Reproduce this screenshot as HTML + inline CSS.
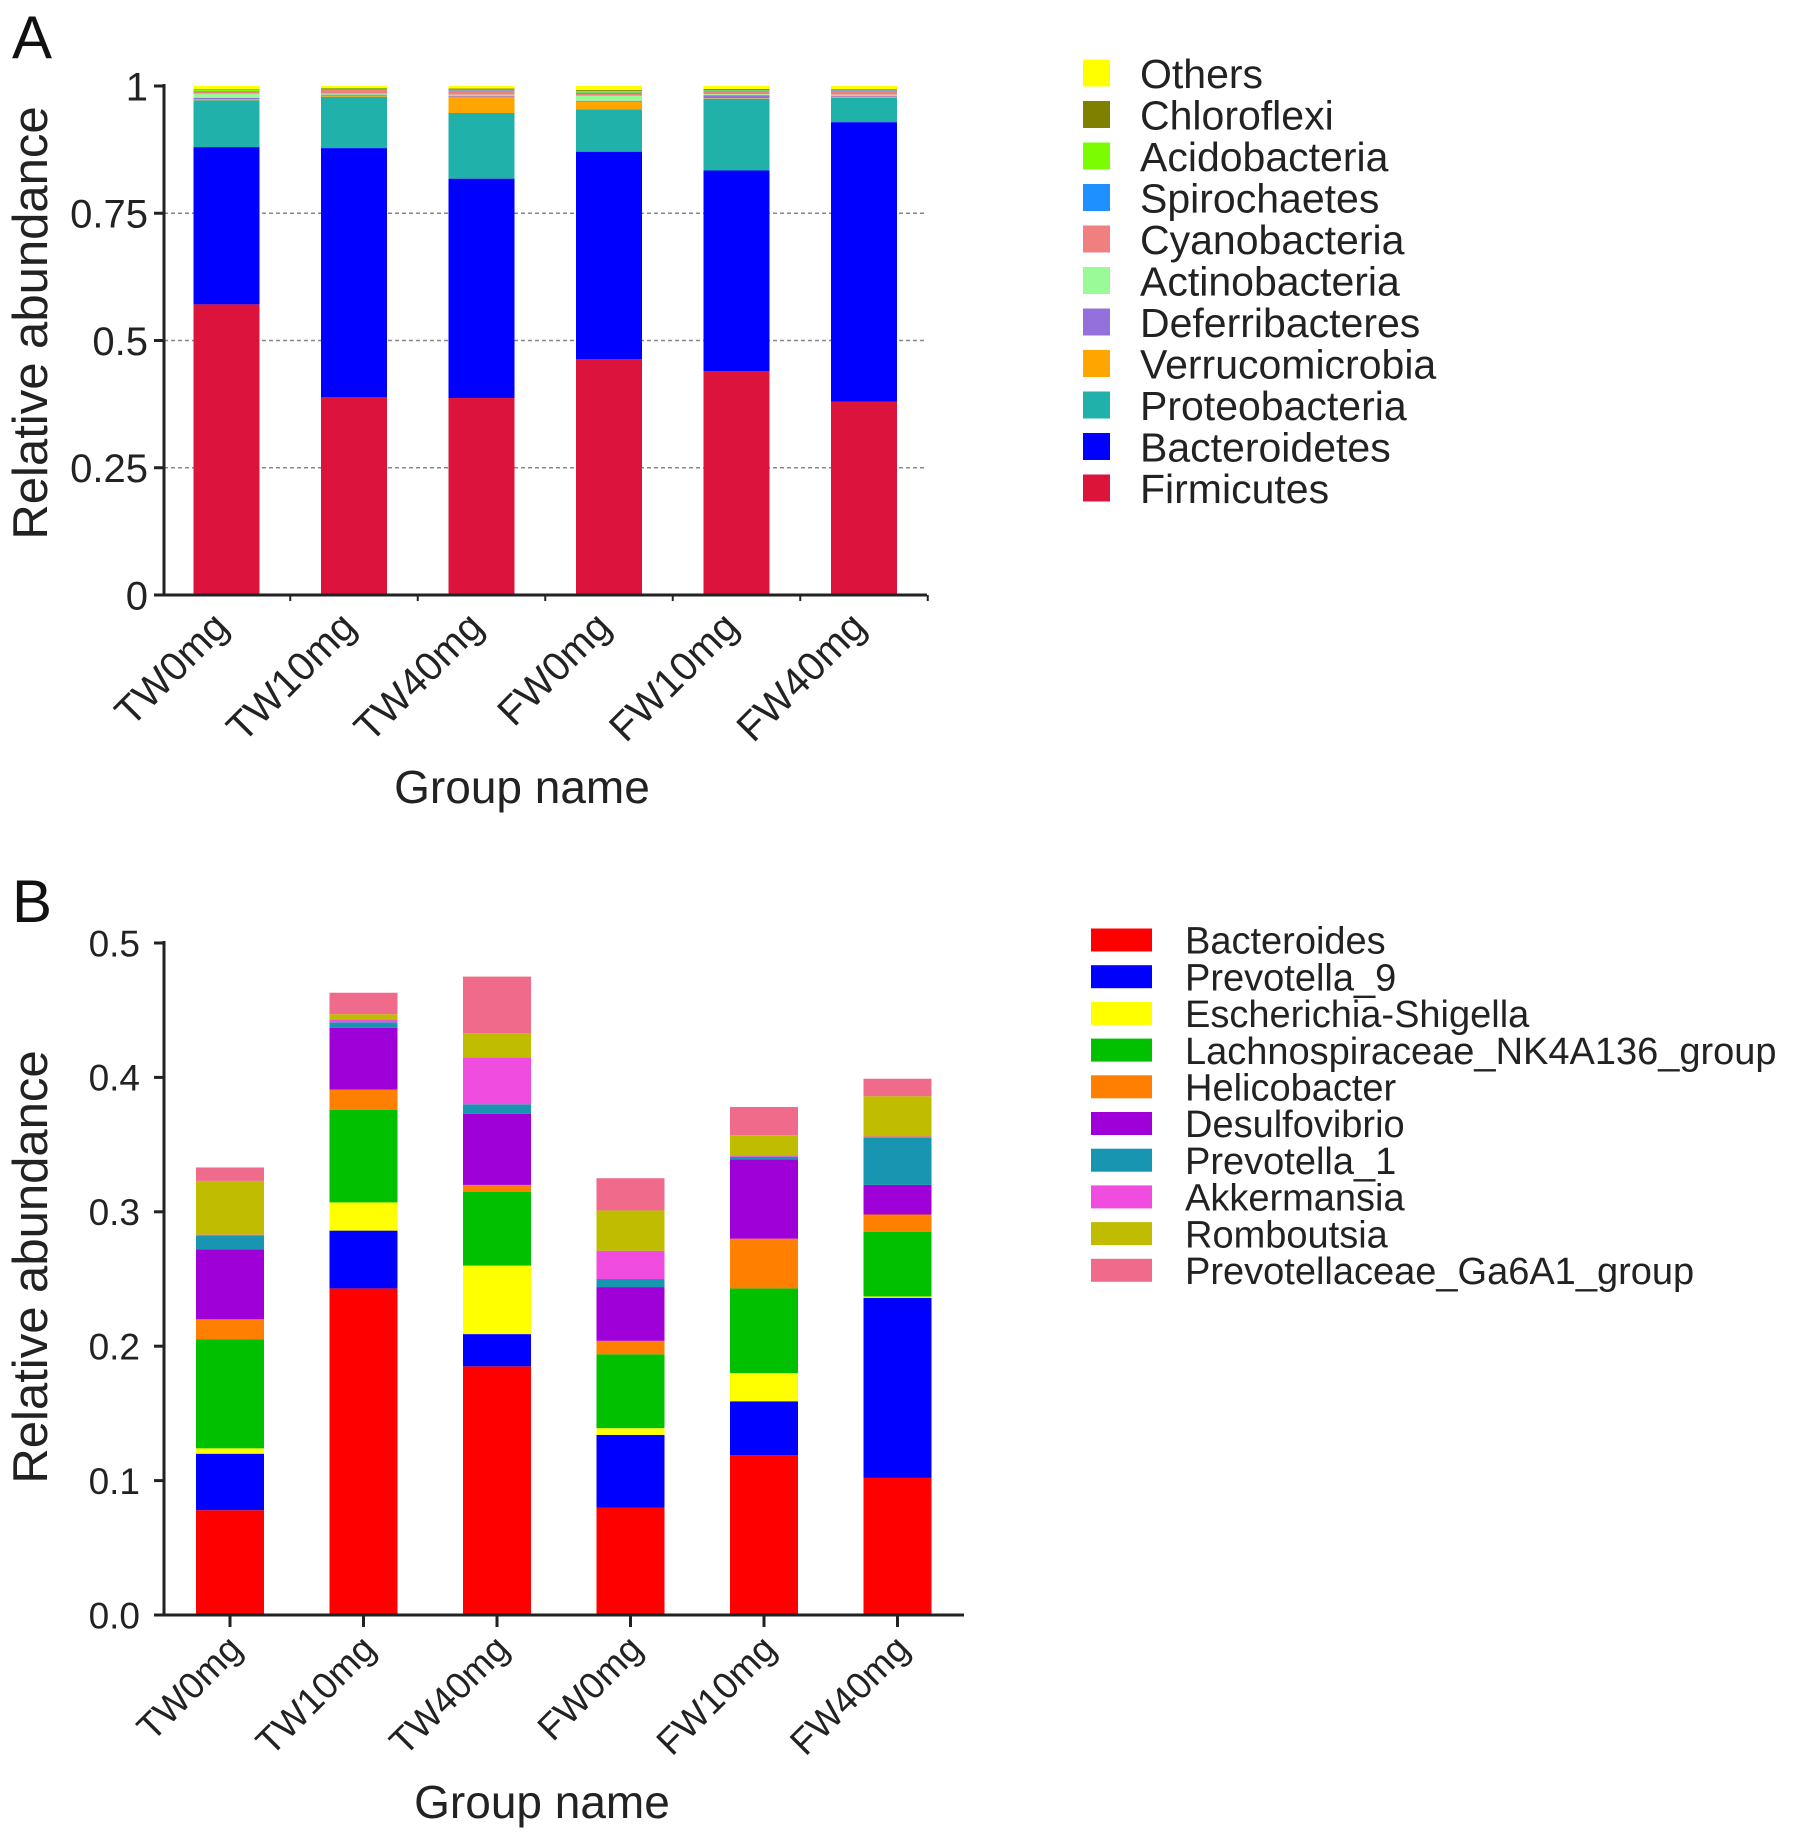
<!DOCTYPE html>
<html><head><meta charset="utf-8"><style>
html,body{margin:0;padding:0;background:#fff;}
svg{display:block;font-family:"Liberation Sans",Arial,sans-serif;}
</style></head><body>
<svg id="fig" width="1795" height="1841" viewBox="0 0 1795 1841" xmlns="http://www.w3.org/2000/svg"></svg>
<script>
const groups = ["TW0mg","TW10mg","TW40mg","FW0mg","FW10mg","FW40mg"];
// Panel A (phylum) - stacking order bottom to top
const phylaA = ["Firmicutes","Bacteroidetes","Proteobacteria","Verrucomicrobia","Deferribacteres","Actinobacteria","Cyanobacteria","Spirochaetes","Acidobacteria","Chloroflexi","Others"];
const firmicutes     = [0.571,0.389,0.387,0.463,0.440,0.380];
const bacteroidetes  = [0.309,0.489,0.431,0.408,0.394,0.549];
const proteobacteria = [0.092,0.101,0.129,0.083,0.141,0.048];
const verrucomicrobia= [0.002,0.002,0.032,0.015,0.001,0.002];
const deferribacteres= [0.003,0.002,0.002,0.002,0.006,0.002];
const actinobacteria = [0.008,0.002,0.002,0.010,0.002,0.002];
const cyanobacteria  = [0.004,0.008,0.008,0.004,0.006,0.008];
const spirochaetes   = [0.001,0.001,0.001,0.002,0.001,0.001];
const acidobacteria  = [0.003,0.001,0.001,0.003,0.001,0.001];
const chloroflexi    = [0.001,0.001,0.002,0.002,0.002,0.001];
const others         = [0.006,0.004,0.005,0.008,0.006,0.006];
const seriesA = [firmicutes,bacteroidetes,proteobacteria,verrucomicrobia,deferribacteres,actinobacteria,cyanobacteria,spirochaetes,acidobacteria,chloroflexi,others];
const colorsA = ["#DC143C","#0000FF","#20B2AA","#FFA500","#9370DB","#98FB98","#F08080","#1E90FF","#7CFC00","#808000","#FFFF00"];
const ticksA = [0,0.25,0.5,0.75,1];
const tickLabelsA = ["0","0.25","0.5","0.75","1"];
// Panel B (genus)
const generaB = ["Bacteroides","Prevotella_9","Escherichia-Shigella","Lachnospiraceae_NK4A136_group","Helicobacter","Desulfovibrio","Prevotella_1","Akkermansia","Romboutsia","Prevotellaceae_Ga6A1_group"];
const bacteroides = [0.078,0.243,0.185,0.080,0.119,0.102];
const prevotella9 = [0.042,0.043,0.024,0.054,0.040,0.134];
const escherichia = [0.004,0.021,0.051,0.005,0.021,0.001];
const lachno      = [0.081,0.069,0.055,0.055,0.063,0.048];
const helico      = [0.015,0.015,0.005,0.010,0.037,0.013];
const desulfo     = [0.052,0.046,0.053,0.040,0.059,0.022];
const prevotella1 = [0.010,0.004,0.007,0.006,0.002,0.035];
const akkermansia = [0.001,0.002,0.035,0.021,0.001,0.001];
const romboutsia  = [0.040,0.004,0.018,0.030,0.015,0.030];
const ga6a1       = [0.010,0.016,0.042,0.024,0.021,0.013];
const seriesB = [bacteroides,prevotella9,escherichia,lachno,helico,desulfo,prevotella1,akkermansia,romboutsia,ga6a1];
const colorsB = ["#FF0000","#0000FF","#FFFF00","#00C000","#FF7F00","#A000D8","#1895B0","#F04CE0","#C0BC00","#F06A8C"];
const ticksB = [0,0.1,0.2,0.3,0.4,0.5];
const tickLabelsB = ["0.0","0.1","0.2","0.3","0.4","0.5"];

const NS="http://www.w3.org/2000/svg";
const svg=document.getElementById('fig');
function el(tag,attrs,parent){const e=document.createElementNS(NS,tag);for(const k in attrs)e.setAttribute(k,attrs[k]);(parent||svg).appendChild(e);return e;}
function txt(s,attrs,parent){const e=el('text',attrs,parent);e.textContent=s;return e;}

function panel(cfg){
  const g=el('g',{});
  
  
  const y=v=>cfg.y0-(v/cfg.vmax)*(cfg.y0-cfg.ytop);
  const xc=i=>cfg.x0c+i*cfg.step;
  if(cfg.grid){cfg.ticks.forEach(t=>{if(t>0&&t<cfg.vmax){const l=el('line',{x1:cfg.ax,x2:cfg.axEnd,y1:y(t),y2:y(t),stroke:'#888','stroke-width':1.5,'stroke-dasharray':'4,3'},g);}});}
  groups.forEach((gn,i)=>{let acc=0;cfg.series.forEach((s,k)=>{const v=s[i];const r=el('rect',{x:xc(i)-cfg.bw/2,y:y(acc+v),width:cfg.bw,height:Math.max(0,y(acc)-y(acc+v)),fill:cfg.colors[k]},g);
    
    
    acc+=v;});});
  const ya=el('line',{x1:cfg.ax,x2:cfg.ax,y1:y(cfg.vmax)-2,y2:cfg.y0,stroke:'#222','stroke-width':3},g);
  
  const xa=el('line',{x1:cfg.ax-10,x2:cfg.axEnd,y1:cfg.y0,y2:cfg.y0,stroke:'#222','stroke-width':3},g);
  
  cfg.ticks.forEach((t,j)=>{el('line',{x1:cfg.ax-10,x2:cfg.ax,y1:y(t),y2:y(t),stroke:'#222','stroke-width':3},g);
    const tl=txt(cfg.tickLabels[j],{x:cfg.ax-cfg.tOff,y:y(t)+cfg.tfs*0.36,'text-anchor':'end','font-size':cfg.tfs,fill:'#222'},g);
    });
  groups.forEach((gn,i)=>{
    if(cfg.xTickCenter){el('line',{x1:xc(i),x2:xc(i),y1:cfg.y0,y2:cfg.y0+12,stroke:'#222','stroke-width':3},g);}
    else{el('line',{x1:xc(i)+cfg.step/2,x2:xc(i)+cfg.step/2,y1:cfg.y0,y2:cfg.y0+6,stroke:'#222','stroke-width':2},g);}
    const lx=xc(i)+cfg.lxOff, ly=cfg.y0+cfg.lyOff;
    const t=txt(gn,{x:lx,y:ly,'text-anchor':'end','font-size':cfg.xfs,fill:'#222',transform:`rotate(-45 ${lx} ${ly})`},g);
    });
  const yt=txt('Relative abundance',{x:cfg.ytX,y:cfg.ytY,'text-anchor':'middle','font-size':cfg.ytfs,fill:'#222',transform:`rotate(-90 ${cfg.ytX} ${cfg.ytY})`},g);
  
  const xt=txt('Group name',{x:cfg.xtX,y:cfg.xtY,'text-anchor':'middle','font-size':cfg.xtfs,fill:'#222'},g);
  
  const pl=txt(cfg.letter,{x:12,y:cfg.letterY,'font-size':60,fill:'#111'},g);
  
  const lg=el('g',{},g);
  
  cfg.legendOrder.forEach((k,r)=>{const cy=cfg.lgY+r*cfg.lgStep;
    const e=el('g',{},lg);
    
    
    el('rect',{x:cfg.lgX,y:cy-cfg.lgH/2,width:cfg.lgW,height:cfg.lgH,fill:cfg.colors[k]},e);
    txt(cfg.labels[k],{x:cfg.lgTX,y:cy+cfg.lgfs*0.36,'font-size':cfg.lgfs,fill:'#222'},e);});
}

panel({name:'chart-a',letter:'A',letterY:58,series:seriesA,colors:colorsA,labels:phylaA,ticks:ticksA,tickLabels:tickLabelsA,vmax:1,
  y0:595,ytop:86,ax:164,axEnd:927,x0c:226.5,step:127.5,bw:66,grid:true,tfs:40,tOff:16,xfs:40,lxOff:4,lyOff:34,
  ytX:47,ytY:323,ytfs:49,xtX:522,xtY:803,xtfs:46,xTickCenter:false,
  legendOrder:[10,9,8,7,6,5,4,3,2,1,0],lgX:1083,lgY:73,lgStep:41.5,lgW:27,lgH:27,lgTX:1140,lgfs:41});
panel({name:'chart-b',letter:'B',letterY:922,series:seriesB,colors:colorsB,labels:generaB,ticks:ticksB,tickLabels:tickLabelsB,vmax:0.5,
  y0:1615,ytop:943,ax:164,axEnd:964,x0c:230,step:133.5,bw:68,grid:false,tfs:37,tOff:24,xfs:37,lxOff:14,lyOff:36,
  ytX:47,ytY:1267,ytfs:49,xtX:542,xtY:1818,xtfs:46,xTickCenter:true,
  legendOrder:[0,1,2,3,4,5,6,7,8,9],lgX:1091,lgY:940,lgStep:36.7,lgW:61,lgH:23,lgTX:1185,lgfs:38});
</script>
</body></html>
